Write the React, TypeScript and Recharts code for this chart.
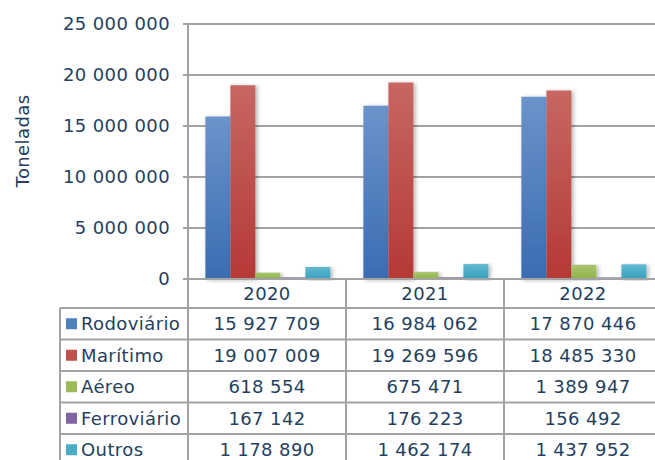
import React from 'react'
import { BarChart, Bar, XAxis, YAxis, CartesianGrid, Label } from 'recharts'

const years = ['2020', '2021', '2022']
const rodoviario = [15927709, 16984062, 17870446]
const maritimo = [19007009, 19269596, 18485330]
const aereo = [618554, 675471, 1389947]
const ferroviario = [167142, 176223, 156492]
const outros = [1178890, 1462174, 1437952]
const yTicks = [0, 5000000, 10000000, 15000000, 20000000, 25000000]

const series = [
  { name: 'Rodoviário', values: rodoviario, color: '#4F81BD', top: '#6c93cb', bottom: '#3a6cb2' },
  { name: 'Marítimo', values: maritimo, color: '#C0504D', top: '#c76762', bottom: '#b43936' },
  { name: 'Aéreo', values: aereo, color: '#9BBB59', top: '#a9c66e', bottom: '#8fb24a' },
  { name: 'Ferroviário', values: ferroviario, color: '#8064A2', top: '#9079ae', bottom: '#725595' },
  { name: 'Outros', values: outros, color: '#4BACC6', top: '#62b8cf', bottom: '#36a1bd' },
]

const data = years.map((year, i) => {
  const row: Record<string, any> = { year }
  series.forEach(s => { row[s.name] = s.values[i] })
  return row
})

const fmt = (n: number) => String(n).replace(/\B(?=(\d{3})+(?!\d))/g, ' ')

const TEXT = '#243F60'
const LINE = '#a3a3a3'
const FONT = '"DejaVu Sans", Verdana, sans-serif'
const LS = 0.4

// layout
const PLOT_LEFT = 188
const PLOT_TOP = 24
const AXIS_Y = 279
const COL_W = 158
const TABLE_LEFT = 60
const TABLE_TOP = 308
const ROW_H = 31.5
const CHART_W = PLOT_LEFT + COL_W * 3

export default function App() {
  return (
    <div style={{ position: 'absolute', left: 0, top: 0, width: 655, height: 460, overflow: 'hidden', background: '#fff', fontFamily: FONT }}>
      {/* data table under the plot */}
      <svg width={CHART_W + 10} height={460} style={{ position: 'absolute', left: 0, top: 0 }}>
        {[0, 1, 2, 3].map(k => (
          <line key={'v' + k} x1={PLOT_LEFT + k * COL_W} x2={PLOT_LEFT + k * COL_W} y1={AXIS_Y} y2={460} stroke={LINE} strokeWidth={2} />
        ))}
        <line x1={TABLE_LEFT} x2={TABLE_LEFT} y1={TABLE_TOP} y2={460} stroke={LINE} strokeWidth={2} />
        {series.map((s, i) => (
          <line key={'h' + i} x1={TABLE_LEFT} x2={CHART_W + 10} y1={TABLE_TOP + i * ROW_H} y2={TABLE_TOP + i * ROW_H} stroke={LINE} strokeWidth={2} />
        ))}
        {series.map((s, i) => {
          const cy = TABLE_TOP + i * ROW_H + ROW_H / 2
          return (
            <g key={s.name}>
              <rect x={66} y={cy - 5.5} width={11} height={11} fill={s.color} />
              <text x={81} y={cy} dominantBaseline="central" fontSize={18} letterSpacing={LS} fill={TEXT} fontFamily={FONT}>{s.name}</text>
              {s.values.map((v, j) => (
                <text key={j} x={PLOT_LEFT + j * COL_W + COL_W / 2} y={cy} dominantBaseline="central" textAnchor="middle" fontSize={18} letterSpacing={LS} fill={TEXT} fontFamily={FONT}>{fmt(v)}</text>
              ))}
            </g>
          )
        })}
      </svg>
      <div style={{ position: 'absolute', left: 0, top: 0 }}>
        <BarChart
          width={CHART_W}
          height={TABLE_TOP}
          data={data}
          margin={{ top: PLOT_TOP, right: 0, bottom: 0, left: 0 }}
          barCategoryGap="11%"
          barGap={0}
        >
          <defs>
            {series.map((s, i) => (
              <linearGradient key={i} id={'g' + i} x1="0" y1="0" x2="0" y2="1">
                <stop offset="0%" stopColor={s.top} />
                <stop offset="100%" stopColor={s.bottom} />
              </linearGradient>
            ))}
            <filter id="shadow" x="-20%" y="-5%" width="150%" height="115%">
              <feDropShadow dx="2" dy="1" stdDeviation="2" floodColor="#000" floodOpacity="0.3" />
            </filter>
          </defs>
          <CartesianGrid vertical={false} stroke={LINE} strokeWidth={2} strokeDasharray="" />
          <XAxis
            dataKey="year"
            height={TABLE_TOP - AXIS_Y}
            tickLine={false}
            tickSize={0}
            tickMargin={8}
            axisLine={{ stroke: LINE, strokeWidth: 2 }}
            tick={{ fontSize: 18, fill: TEXT, fontFamily: FONT, letterSpacing: LS }}
          />
          <YAxis
            width={PLOT_LEFT}
            domain={[0, 25000000]}
            ticks={yTicks}
            interval={0}
            tickFormatter={fmt}
            tickSize={5}
            tickMargin={13}
            tickLine={{ stroke: LINE, strokeWidth: 2 }}
            axisLine={{ stroke: LINE, strokeWidth: 2 }}
            tick={{ fontSize: 18, fill: TEXT, fontFamily: FONT, letterSpacing: LS }}
          >
            <Label
              content={() => (
                <text x={22} y={141} transform="rotate(-90 22 141)" textAnchor="middle" dominantBaseline="central" fontSize={18} letterSpacing={LS} fill={TEXT} fontFamily={FONT}>
                  Toneladas
                </text>
              )}
            />
          </YAxis>
          {series.map((s, i) => (
            <Bar key={s.name} dataKey={s.name} fill={`url(#g${i})`} filter="url(#shadow)" isAnimationActive={false} />
          ))}
        </BarChart>
      </div>
    </div>
  )
}
